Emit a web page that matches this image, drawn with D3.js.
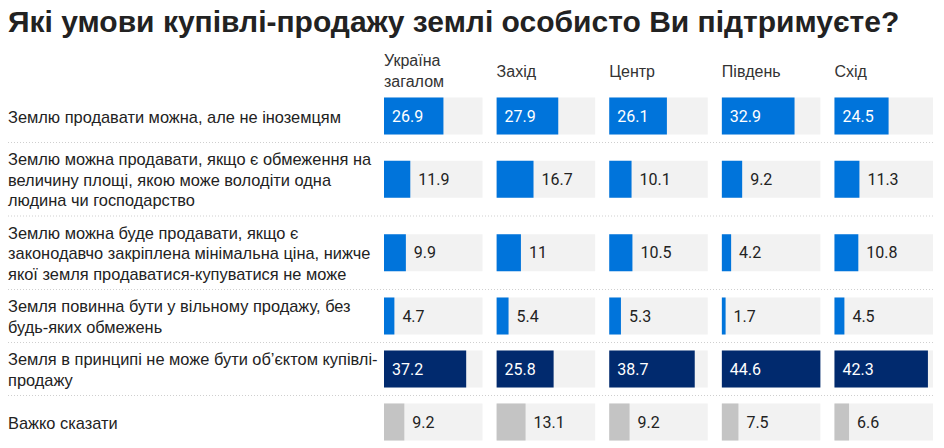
<!DOCTYPE html>
<html><head><meta charset="utf-8">
<script src="https://cdn.jsdelivr.net/npm/d3@7"></script>
<style>
body{margin:0;background:#fff;}
svg{display:block;}
</style></head>
<body>
<svg id="chart" width="944" height="448"></svg>
<script>
const title = "Які умови купівлі-продажу землі особисто Ви підтримуєте?";
const regions = ["Україна\nзагалом", "Захід", "Центр", "Південь", "Схід"];
const categories = [
  "Землю продавати можна, але не іноземцям",
  "Землю можна продавати, якщо є обмеження на\nвеличину площі, якою може володіти одна\nлюдина чи господарство",
  "Землю можна буде продавати, якщо є\nзаконодавчо закріплена мінімальна ціна, нижче\nякої земля продаватися-купуватися не може",
  "Земля повинна бути у вільному продажу, без\nбудь-яких обмежень",
  "Земля в принципі не може бути об’єктом купівлі-\nпродажу",
  "Важко сказати"
];
const ukraine = [26.9, 11.9, 9.9, 4.7, 37.2, 9.2];
const zakhid  = [27.9, 16.7, 11, 5.4, 25.8, 13.1];
const tsentr  = [26.1, 10.1, 10.5, 5.3, 38.7, 9.2];
const pivden  = [32.9, 9.2, 4.2, 1.7, 44.6, 7.5];
const skhid   = [24.5, 11.3, 10.8, 4.5, 42.3, 6.6];
const series = [ukraine, zakhid, tsentr, pivden, skhid];
const rowColors = ["#0074db", "#0074db", "#0074db", "#0074db", "#012a6e", "#c4c4c4"];

const svg = d3.select("#chart");
const lineH = 20.5;

svg.append("text").attr("x", 8).attr("y", 32)
  .attr("font-family", "Liberation Sans, Arial, sans-serif")
  .attr("font-weight", "bold").attr("font-size", 30).attr("fill", "#222")
  .text(title);

const x0 = d3.scaleBand().domain(d3.range(regions.length)).range([384, 933]).paddingInner(0.125).paddingOuter(0);
const maxV = d3.max(series.flat());
const x = d3.scaleLinear().domain([0, maxV]).range([0, x0.bandwidth()]);

// headers
regions.forEach((r, i) => {
  const lines = r.split("\n");
  const t = svg.append("text")
    .attr("font-family", "Liberation Sans, Arial, sans-serif").attr("font-size", 16).attr("fill", "#333");
  const cy = 71;
  lines.forEach((l, j) => {
    t.append("tspan").attr("x", x0(i)).attr("y", cy + (j - (lines.length - 1) / 2) * lineH + 5.5).text(l);
  });
});

// rows layout
let y = 89;
const rows = categories.map((c, i) => {
  const lines = c.split("\n");
  const h = lineH * Math.max(lines.length, 2) + 12;
  const r = {i, lines, top: y, h};
  y += h;
  return r;
});

const barH = 37;
rows.forEach(r => {
  const cy = r.top + r.h / 2 + 0.5;
  if (r.i > 0) {
    svg.append("line").attr("x1", 8).attr("x2", 933).attr("y1", r.top + 0.5).attr("y2", r.top + 0.5)
      .attr("stroke", "#cfcfcf").attr("stroke-width", 1).attr("stroke-dasharray", "1,2");
  }
  const t = svg.append("text")
    .attr("font-family", "Liberation Sans, Arial, sans-serif").attr("font-size", 16.4).attr("fill", "#222");
  r.lines.forEach((l, j) => {
    t.append("tspan").attr("x", 8).attr("y", cy + (j - (r.lines.length - 1) / 2) * lineH + 6.5).text(l);
  });
  series.forEach((s, k) => {
    const g = svg.append("g").attr("transform", `translate(${x0(k)},${cy - barH / 2})`);
    g.append("rect").attr("x", 0).attr("y", 0).attr("width", x0.bandwidth()).attr("height", barH).attr("fill", "#f2f2f2");
    const w = x(s[r.i]);
    g.append("rect").attr("x", 0).attr("y", 0).attr("width", w).attr("height", barH).attr("fill", rowColors[r.i]);
    const lbl = g.append("text").attr("y", barH / 2 + 5.5)
      .attr("font-family", "Roboto, sans-serif").attr("font-size", 16)
      .text(s[r.i]);
    const tw = lbl.node().getComputedTextLength();
    if (w > tw + 16 && r.i !== 5) {
      lbl.attr("x", 8).attr("fill", "#fff");
    } else {
      lbl.attr("x", w + 8).attr("fill", "#222");
    }
  });
});
</script>
</body></html>
